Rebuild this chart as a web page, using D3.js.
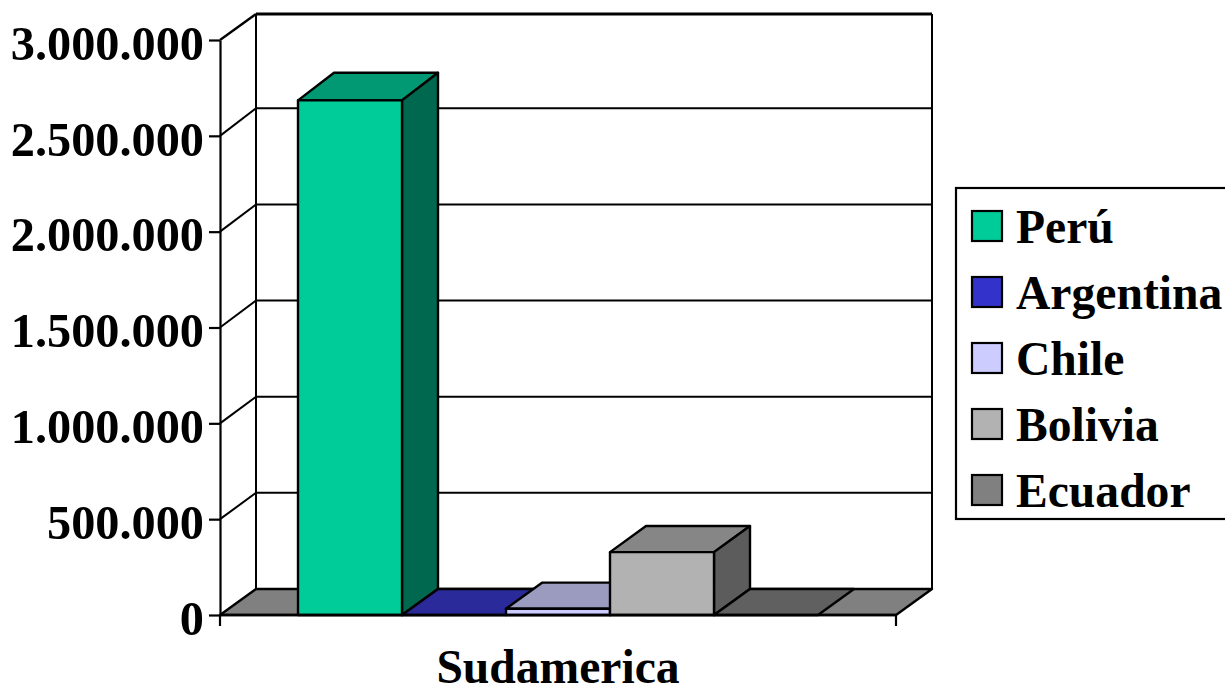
<!DOCTYPE html>
<html>
<head>
<meta charset="utf-8">
<script src="https://cdn.jsdelivr.net/npm/d3@7"></script>
<style>
body { margin: 0; background: #fff; overflow: hidden; }
text { font-family: "Liberation Serif", serif; font-weight: bold; fill: #000; }
</style>
</head>
<body>
<script>
const width = 1225
const height = 686

// values
const category = 'Sudamerica'
const countries = ['Perú', 'Argentina', 'Chile', 'Bolivia', 'Ecuador']
const production = [2685000, 0, 33000, 328000, 0]
const tickValues = [0, 500000, 1000000, 1500000, 2000000, 2500000, 3000000]
const frontColors = ['#00cc99', '#3333cc', '#ccccff', '#b2b2b2', '#808080']
const topColors = ['#009973', '#2a2a9a', '#9b9bc0', '#868686', '#606060']
const sideColors = ['#00684e', '#1f1f75', '#7a7aa0', '#5c5c5c', '#4a4a4a']

// 3d offset of the back wall
const depthX = 36
const wallTop = 14
const fontSize = 47.6
const axisFontSize = 48.3

// front plane and back plane of the box
const y = d3.scaleLinear().domain([0, 3000000]).range([615, 40])
const yBack = d3.scaleLinear().domain([0, 3000000]).range([589, 12.2])
const x = d3.scaleBand().domain(countries).range([220, 896]).paddingInner(0).paddingOuter(0.75)
const x0 = d3.scaleBand().domain([category]).range([220, 896])

const locale = d3.formatLocale({ decimal: ',', thousands: '.', grouping: [3], currency: ['', ''] })

const svg = d3.select('body').append('svg')
    .attr('width', width)
    .attr('height', height)

function poly(points, fill, sw) {
    svg.append('polygon')
        .attr('points', points.map(p => p.join(',')).join(' '))
        .style('fill', fill)
        .style('stroke', '#000')
        .style('stroke-width', sw || 2.4)
        .style('stroke-linejoin', 'round')
}

function line(x1, y1, x2, y2, sw) {
    svg.append('line')
        .attr('x1', x1).attr('y1', y1)
        .attr('x2', x2).attr('y2', y2)
        .style('stroke', '#000')
        .style('stroke-width', sw)
}

const [left, right] = x0.range()

// Gridlines on the side wall and back wall
tickValues.forEach(t => {
    if (t === 0 || t === 3000000) return
    line(left, y(t), left + depthX, yBack(t), 2)
    line(left + depthX, yBack(t), right + depthX, yBack(t), 2)
})

// Wall edges
line(left, y(3000000), left + depthX, wallTop, 2.4)
line(left + depthX, wallTop, right + depthX, wallTop, 3)
line(left + depthX, wallTop, left + depthX, yBack(0), 2)
line(right + depthX, wallTop, right + depthX, yBack(0), 2)

// Floor
poly([[left, y(0)], [right, y(0)], [right + depthX, yBack(0)], [left + depthX, yBack(0)]], '#808080')

// Bars
countries.forEach((c, i) => {
    const x1 = x(c)
    const x2 = x(c) + x.bandwidth()
    const yTop = y(production[i])
    const yTopBack = yBack(production[i])
    const yBase = y(0)
    poly([[x1, yTop], [x2, yTop], [x2 + depthX, yTopBack], [x1 + depthX, yTopBack]], topColors[i])
    if (production[i] > 0) {
        poly([[x2, yTop], [x2 + depthX, yTopBack], [x2 + depthX, yBack(0)], [x2, yBase]], sideColors[i])
        poly([[x1, yTop], [x2, yTop], [x2, yBase], [x1, yBase]], frontColors[i])
    }
})

// Left axis
const yAxis = svg.append('g')
    .attr('transform', `translate(${left},0)`)
    .call(d3.axisLeft(y).tickValues(tickValues).tickSize(11).tickSizeOuter(0).tickPadding(5)
        .tickFormat(locale.format(',d')))
yAxis.selectAll('path, line').style('stroke', '#000').style('stroke-width', 2.2)
yAxis.selectAll('text').style('font-size', axisFontSize + 'px').attr('dy', '0.4em')

// Bottom axis
line(left, y(0), right, y(0), 2.4)
line(left, y(0), left, y(0) + 11, 2.2)
line(right, y(0), right, y(0) + 11, 2.2)

svg.append('text')
    .attr('x', x0(category) + x0.bandwidth() / 2)
    .attr('y', 683.3)
    .attr('text-anchor', 'middle')
    .style('font-size', fontSize + 'px')
    .text(category)

// Legend
svg.append('rect')
    .attr('x', 956).attr('y', 188)
    .attr('width', 275).attr('height', 331)
    .style('fill', '#fff')
    .style('stroke', '#000')
    .style('stroke-width', 2.2)

const legendY = d3.scalePoint().domain(countries).range([226, 490])

countries.forEach((c, i) => {
    svg.append('rect')
        .attr('x', 972).attr('y', legendY(c) - 15)
        .attr('width', 30).attr('height', 30)
        .style('fill', frontColors[i])
        .style('stroke', '#000')
        .style('stroke-width', 2.2)
    svg.append('text')
        .attr('x', 1016).attr('y', legendY(c))
        .attr('dy', '0.36em')
        .style('font-size', fontSize + 'px')
        .text(c)
})
</script>
</body>
</html>
